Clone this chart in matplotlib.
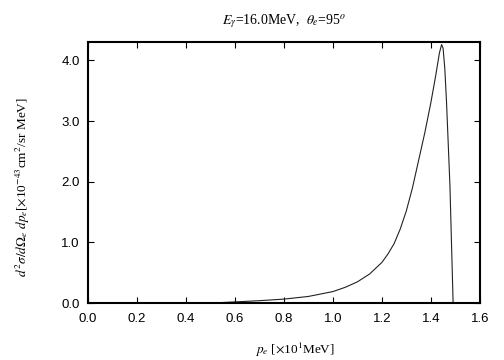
import matplotlib
matplotlib.use("Agg")
import matplotlib.pyplot as plt

# spectrum
pe = [0.50, 0.60, 0.70, 0.80, 0.90, 1.00, 1.05, 1.10, 1.15, 1.20, 1.225, 1.25, 1.275,
      1.30, 1.325, 1.35, 1.375, 1.40, 1.42, 1.435, 1.444, 1.45, 1.457, 1.464, 1.478, 1.491]
xs = [0.0, 0.02, 0.04, 0.066, 0.11, 0.19, 0.26, 0.35, 0.48, 0.67, 0.81, 0.98, 1.22,
      1.52, 1.90, 2.35, 2.80, 3.30, 3.75, 4.12, 4.26, 4.20, 3.87, 3.32, 1.94, 0.0]

xticks = [0.0, 0.2, 0.4, 0.6, 0.8, 1.0, 1.2, 1.4, 1.6]
yticks = [0.0, 1.0, 2.0, 3.0, 4.0]

plt.rcParams['mathtext.fontset'] = 'stix'

fig = plt.figure(figsize=(5.04, 3.6), dpi=100)
ax = fig.add_axes([0.1746, 0.158, 0.7774, 0.725])

ax.plot(pe, xs, color='#222222', lw=0.8)

ax.set_xlim(0.0, 1.6)
ax.set_ylim(0.0, 4.3)
ax.set_xticks(xticks)
ax.set_yticks(yticks)
ax.set_xticklabels([f"{t:.1f}" for t in xticks], family='Liberation Sans', fontsize=9.5)
ax.set_yticklabels([f"{t:.1f}" for t in yticks], family='Liberation Sans', fontsize=9.5)
ax.tick_params(direction='in', top=True, right=True, length=4, width=0.8)
ax.tick_params(axis='x', pad=7)
ax.tick_params(axis='y', pad=6)
for s in ax.spines.values():
    s.set_linewidth(1.5)

ax.set_title(r"$E_\gamma$=16.0MeV,  $\theta_e$=95$^o$", family='Liberation Serif',
             fontsize=10, pad=13)
fig.text(0.585, 0.028, r"$p_e$ [$\times$10$^1$MeV]", family='Liberation Serif',
         fontsize=9.5, ha='center', va='center')
fig.text(0.045, 0.48, r"$d^2\sigma/d\Omega_e\ dp_e$[$\times$10$^{-43}$cm$^2$/sr MeV]",
         family='Liberation Serif', fontsize=9.5, rotation=90, ha='center', va='center')

fig.savefig("out.png", dpi=100)
